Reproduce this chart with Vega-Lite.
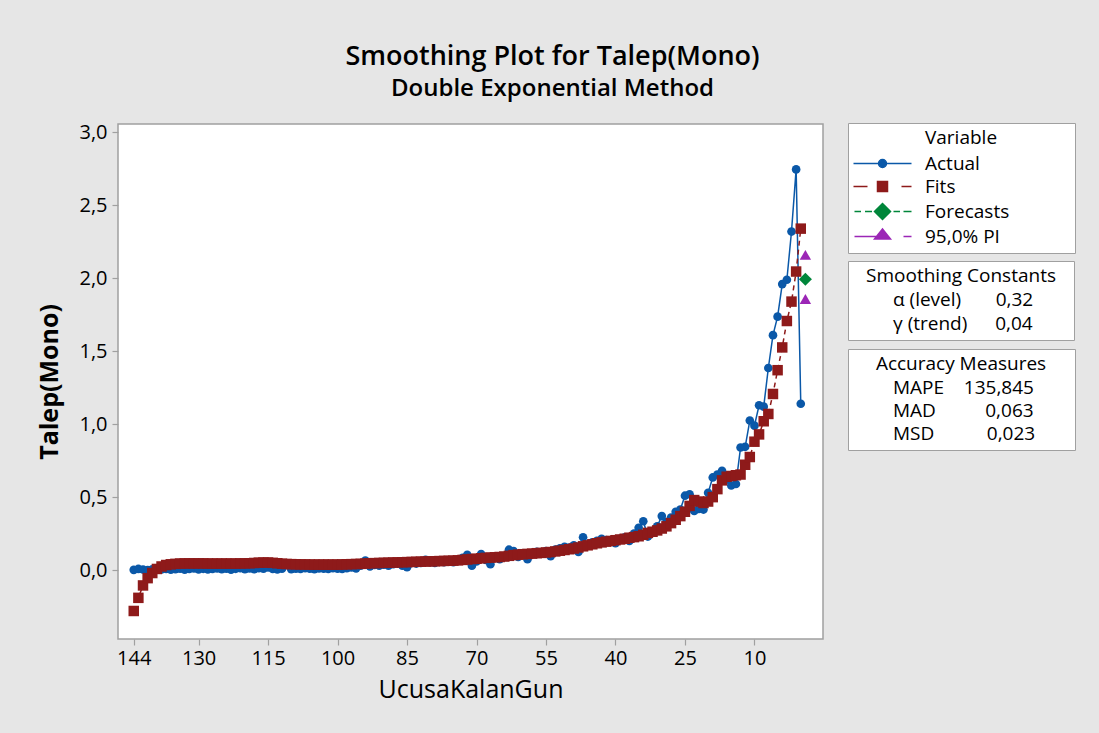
{
  "$schema": "https://vega.github.io/schema/vega-lite/v6.json",
  "autosize": {"type": "none"},
  "padding": {"left": 118, "top": 124, "right": 276, "bottom": 94},
  "width": 705,
  "height": 515,
  "background": "#e6e6e6",
  "config": {
    "font": "Open Sans",
    "view": {"fill": "white", "stroke": "#a0a0a0", "strokeWidth": 1.5},
    "axis": {"labelColor": "black", "titleColor": "black", "tickColor": "#a0a0a0", "tickSize": 6, "tickWidth": 1.2, "domain": false, "grid": false}
  },
  "title": {
    "text": "Smoothing Plot for Talep(Mono)",
    "subtitle": "Double Exponential Method",
    "anchor": "middle",
    "dx": 82,
    "offset": 20,
    "fontSize": 27,
    "fontWeight": 600,
    "color": "black",
    "subtitleFontSize": 24,
    "subtitleFontWeight": 600,
    "subtitleColor": "black",
    "subtitlePadding": 6
  },
  "datasets": {
    "series": [
      {"gun":144,"actual":0.002,"fit":-0.28},{"gun":143,"actual":0.008,"fit":-0.19},{"gun":142,"actual":0.004,"fit":-0.105},{"gun":141,"actual":0.0,"fit":-0.055},{"gun":140,"actual":0.006,"fit":-0.02},
      {"gun":139,"actual":0.01,"fit":0.008},{"gun":138,"actual":0.004,"fit":0.025},{"gun":137,"actual":0.008,"fit":0.035},{"gun":136,"actual":0.003,"fit":0.04},{"gun":135,"actual":0.007,"fit":0.043},
      {"gun":134,"actual":0.01,"fit":0.045},{"gun":133,"actual":0.003,"fit":0.046},{"gun":132,"actual":0.008,"fit":0.046},{"gun":131,"actual":0.012,"fit":0.046},{"gun":130,"actual":0.005,"fit":0.046},
      {"gun":129,"actual":0.009,"fit":0.046},{"gun":128,"actual":0.004,"fit":0.045},{"gun":127,"actual":0.008,"fit":0.045},{"gun":126,"actual":0.012,"fit":0.045},{"gun":125,"actual":0.006,"fit":0.045},
      {"gun":124,"actual":0.01,"fit":0.045},{"gun":123,"actual":0.003,"fit":0.045},{"gun":122,"actual":0.009,"fit":0.045},{"gun":121,"actual":0.013,"fit":0.046},{"gun":120,"actual":0.007,"fit":0.046},
      {"gun":119,"actual":0.011,"fit":0.047},{"gun":118,"actual":0.006,"fit":0.049},{"gun":117,"actual":0.014,"fit":0.051},{"gun":116,"actual":0.01,"fit":0.052},{"gun":115,"actual":0.018,"fit":0.052},
      {"gun":114,"actual":0.008,"fit":0.05},{"gun":113,"actual":0.004,"fit":0.047},{"gun":112,"actual":0.01,"fit":0.044},{"gun":111,"actual":0.04,"fit":0.042},{"gun":110,"actual":0.006,"fit":0.041},
      {"gun":109,"actual":0.01,"fit":0.04},{"gun":108,"actual":0.008,"fit":0.039},{"gun":107,"actual":0.013,"fit":0.039},{"gun":106,"actual":0.01,"fit":0.038},{"gun":105,"actual":0.006,"fit":0.038},
      {"gun":104,"actual":0.012,"fit":0.038},{"gun":103,"actual":0.01,"fit":0.038},{"gun":102,"actual":0.008,"fit":0.038},{"gun":101,"actual":0.013,"fit":0.038},{"gun":100,"actual":0.01,"fit":0.038},
      {"gun":99,"actual":0.008,"fit":0.039},{"gun":98,"actual":0.014,"fit":0.04},{"gun":97,"actual":0.018,"fit":0.041},{"gun":96,"actual":0.012,"fit":0.042},{"gun":95,"actual":0.03,"fit":0.043},
      {"gun":94,"actual":0.065,"fit":0.045},{"gun":93,"actual":0.025,"fit":0.047},{"gun":92,"actual":0.035,"fit":0.048},{"gun":91,"actual":0.03,"fit":0.049},{"gun":90,"actual":0.038,"fit":0.05},
      {"gun":89,"actual":0.03,"fit":0.051},{"gun":88,"actual":0.04,"fit":0.052},{"gun":87,"actual":0.045,"fit":0.053},{"gun":86,"actual":0.03,"fit":0.054},{"gun":85,"actual":0.02,"fit":0.055},
      {"gun":84,"actual":0.05,"fit":0.056},{"gun":83,"actual":0.045,"fit":0.057},{"gun":82,"actual":0.05,"fit":0.058},{"gun":81,"actual":0.07,"fit":0.059},{"gun":80,"actual":0.055,"fit":0.06},
      {"gun":79,"actual":0.05,"fit":0.061},{"gun":78,"actual":0.06,"fit":0.062},{"gun":77,"actual":0.055,"fit":0.063},{"gun":76,"actual":0.065,"fit":0.064},{"gun":75,"actual":0.055,"fit":0.065},
      {"gun":74,"actual":0.07,"fit":0.067},{"gun":73,"actual":0.085,"fit":0.07},{"gun":72,"actual":0.105,"fit":0.073},{"gun":71,"actual":0.03,"fit":0.076},{"gun":70,"actual":0.06,"fit":0.078},
      {"gun":69,"actual":0.11,"fit":0.081},{"gun":68,"actual":0.07,"fit":0.084},{"gun":67,"actual":0.04,"fit":0.086},{"gun":66,"actual":0.085,"fit":0.088},{"gun":65,"actual":0.075,"fit":0.09},
      {"gun":64,"actual":0.095,"fit":0.093},{"gun":63,"actual":0.14,"fit":0.098},{"gun":62,"actual":0.13,"fit":0.103},{"gun":61,"actual":0.09,"fit":0.106},{"gun":60,"actual":0.105,"fit":0.109},
      {"gun":59,"actual":0.075,"fit":0.111},{"gun":58,"actual":0.11,"fit":0.113},{"gun":57,"actual":0.125,"fit":0.116},{"gun":56,"actual":0.115,"fit":0.118},{"gun":55,"actual":0.13,"fit":0.121},
      {"gun":54,"actual":0.095,"fit":0.124},{"gun":53,"actual":0.14,"fit":0.128},{"gun":52,"actual":0.15,"fit":0.133},{"gun":51,"actual":0.16,"fit":0.138},{"gun":50,"actual":0.155,"fit":0.143},
      {"gun":49,"actual":0.17,"fit":0.148},{"gun":48,"actual":0.125,"fit":0.155},{"gun":47,"actual":0.225,"fit":0.163},{"gun":46,"actual":0.17,"fit":0.17},{"gun":45,"actual":0.19,"fit":0.177},
      {"gun":44,"actual":0.2,"fit":0.184},{"gun":43,"actual":0.215,"fit":0.19},{"gun":42,"actual":0.205,"fit":0.195},{"gun":41,"actual":0.2,"fit":0.2},{"gun":40,"actual":0.185,"fit":0.205},
      {"gun":39,"actual":0.215,"fit":0.21},{"gun":38,"actual":0.225,"fit":0.215},{"gun":37,"actual":0.2,"fit":0.222},{"gun":36,"actual":0.25,"fit":0.226},{"gun":35,"actual":0.29,"fit":0.232},
      {"gun":34,"actual":0.335,"fit":0.242},{"gun":33,"actual":0.23,"fit":0.255},{"gun":32,"actual":0.26,"fit":0.263},{"gun":31,"actual":0.3,"fit":0.272},{"gun":30,"actual":0.37,"fit":0.285},
      {"gun":29,"actual":0.33,"fit":0.3},{"gun":28,"actual":0.36,"fit":0.322},{"gun":27,"actual":0.4,"fit":0.345},{"gun":26,"actual":0.415,"fit":0.37},{"gun":25,"actual":0.51,"fit":0.4},
      {"gun":24,"actual":0.52,"fit":0.44},{"gun":23,"actual":0.405,"fit":0.48},{"gun":22,"actual":0.42,"fit":0.47},{"gun":21,"actual":0.415,"fit":0.46},{"gun":20,"actual":0.53,"fit":0.47},
      {"gun":19,"actual":0.635,"fit":0.5},{"gun":18,"actual":0.655,"fit":0.555},{"gun":17,"actual":0.68,"fit":0.615},{"gun":16,"actual":0.62,"fit":0.64},{"gun":15,"actual":0.58,"fit":0.645},
      {"gun":14,"actual":0.59,"fit":0.65},{"gun":13,"actual":0.84,"fit":0.655},{"gun":12,"actual":0.845,"fit":0.722},{"gun":11,"actual":1.025,"fit":0.775},{"gun":10,"actual":0.99,"fit":0.88},
      {"gun":9,"actual":1.13,"fit":0.93},{"gun":8,"actual":1.12,"fit":1.02},{"gun":7,"actual":1.385,"fit":1.07},{"gun":6,"actual":1.61,"fit":1.207},{"gun":5,"actual":1.737,"fit":1.37},
      {"gun":4,"actual":1.96,"fit":1.526},{"gun":3,"actual":1.99,"fit":1.707},{"gun":2,"actual":2.32,"fit":1.84},{"gun":1,"actual":2.746,"fit":2.046},{"gun":0,"actual":1.14,"fit":2.34}
    ],
    "forecast": [{"gun": -1, "forecast": 1.993, "upper": 2.16, "lower": 1.858}],
    "constants": [{"item": "α (level)", "value": "0,32"}, {"item": "γ (trend)", "value": "0,04"}],
    "accuracy": [{"item": "MAPE", "value": "135,845"}, {"item": "MAD", "value": "0,063"}, {"item": "MSD", "value": "0,023"}]
  },
  "encoding": {
    "x": {
      "field": "gun", "type": "quantitative",
      "scale": {"domain": [-4.8, 147.4], "reverse": true, "nice": false, "zero": false},
      "axis": {"values": [144,130,115,100,85,70,55,40,25,10], "title": "UcusaKalanGun", "titleFontSize": 25, "titleFontWeight": "normal", "titlePadding": 9, "labelFontSize": 20, "labelPadding": 3}
    }
  },
  "layer": [
    {
      "data": {"name": "series"},
      "mark": {"type": "line", "strokeWidth": 1.5},
      "encoding": {
        "y": {
          "field": "actual", "type": "quantitative",
          "scale": {"domain": [-0.472, 3.057], "nice": false, "zero": false},
          "axis": {"values": [0,0.5,1,1.5,2,2.5,3], "format": ".1f", "labelExpr": "replace(datum.label, '.', ',')", "title": "Talep(Mono)", "titleFontSize": 25, "titleFontWeight": "bold", "titlePadding": 16, "labelFontSize": 20, "labelPadding": 5}
        },
        "color": {
          "datum": "Actual", "type": "nominal",
          "scale": {"domain": ["Actual", "Fits", "Forecasts", "95,0% PI"], "range": ["#0a58a8", "#8e1a1a", "#00863a", "#9b26b6"]},
          "legend": {
            "title": "Variable",
            "orient": "none", "legendX": 730, "legendY": -1,
            "padding": 6,
            "strokeColor": "#a0a0a0", "fillColor": "white",
            "titleAnchor": "middle", "titleFontSize": 19, "titleFontWeight": "normal", "titleColor": "black", "titlePadding": 6, "titleLimit": 400,
            "labelFontSize": 19, "labelColor": "black", "labelOffset": 52, "labelLimit": 500,
            "labelExpr": "datum.label + '\u00a0\u00a0\u00a0\u00a0\u00a0\u00a0\u00a0\u00a0\u00a0\u00a0\u00a0\u00a0\u200b'",
            "symbolSize": 100, "rowPadding": 3,
            "encode": {
              "symbols": {"update": {
                "shape": {"signal": "datum.value === 'Actual' ? 'M-2,0H9.6M3,0A0.8,0.8,0,1,1,4.6,0A0.8,0.8,0,1,1,3,0Z' : datum.value === 'Fits' ? 'M-2,0H0.8M7.6,0H9.6M2.8,-1H4.8V1H2.8Z' : datum.value === 'Forecasts' ? 'M-1.8,0H-0.5M0.3,0H1.7M6,0H7.3M8,0H9.6M3.8,-1.6L5.4,0L3.8,1.6L2.2,0Z' : 'M-1.8,0H3.8M8,0H9.6M3.8,-1.5L5.4,0.5L2.2,0.5Z'"},
                "fill": {"scale": "color", "field": "value"},
                "stroke": {"scale": "color", "field": "value"},
                "strokeWidth": {"value": 1.5},
                "opacity": {"value": 1},
                "size": {"value": 100}
              }}
            }
          }
        }
      }
    },
    {
      "data": {"name": "series"},
      "mark": {"type": "point", "shape": "circle", "filled": true, "size": 75, "opacity": 1},
      "encoding": {"y": {"field": "actual", "type": "quantitative"}, "color": {"datum": "Actual", "type": "nominal"}}
    },
    {
      "data": {"name": "series"},
      "mark": {"type": "line", "strokeWidth": 1.5, "strokeDash": [5, 4]},
      "encoding": {"y": {"field": "fit", "type": "quantitative"}, "color": {"datum": "Fits", "type": "nominal"}}
    },
    {
      "data": {"name": "series"},
      "mark": {"type": "point", "shape": "square", "filled": true, "size": 110, "opacity": 1},
      "encoding": {"y": {"field": "fit", "type": "quantitative"}, "color": {"datum": "Fits", "type": "nominal"}}
    },
    {
      "data": {"name": "forecast"},
      "mark": {"type": "point", "shape": "diamond", "filled": true, "size": 170, "opacity": 1},
      "encoding": {"y": {"field": "forecast", "type": "quantitative"}, "color": {"datum": "Forecasts", "type": "nominal"}}
    },
    {
      "data": {"name": "forecast"},
      "mark": {"type": "point", "shape": "triangle-up", "filled": true, "size": 130, "opacity": 1},
      "encoding": {"y": {"field": "upper", "type": "quantitative"}, "color": {"datum": "95,0% PI", "type": "nominal"}}
    },
    {
      "data": {"name": "forecast"},
      "mark": {"type": "point", "shape": "triangle-up", "filled": true, "size": 130, "opacity": 1},
      "encoding": {"y": {"field": "lower", "type": "quantitative"}, "color": {"datum": "95,0% PI", "type": "nominal"}}
    },
    {
      "data": {"name": "constants"},
      "mark": {"type": "point", "filled": true, "opacity": 0},
      "encoding": {
        "fill": {
          "field": "item", "type": "nominal",
          "scale": {"domain": ["α (level)", "γ (trend)"], "range": ["white"]},
          "legend": {
            "title": "Smoothing Constants",
            "orient": "none", "legendX": 730, "legendY": 137,
            "padding": 6, "strokeColor": "#a0a0a0", "fillColor": "white",
            "titleAnchor": "middle", "titleFontSize": 19, "titleFontWeight": "normal", "titleColor": "black", "titlePadding": 4, "titleLimit": 400,
            "labelFontSize": 19, "labelColor": "black", "labelLimit": 500, "labelOffset": 20,
            "labelExpr": "datum.label == 'α (level)' ? 'α (level)\u00a0\u00a0\u00a0\u00a0\u00a0\u00a0\u00a00,32\u00a0\u00a0\u00a0\u00a0\u00a0\u00a0\u00a0\u200b' : 'γ (trend)\u00a0\u00a0\u00a0\u00a0\u00a0\u20090,04'",
            "rowPadding": 4,
            "symbolSize": 0, "symbolOpacity": 0, "symbolStrokeWidth": 0
          }
        }
      }
    },
    {
      "data": {"name": "accuracy"},
      "mark": {"type": "point", "filled": true, "opacity": 0},
      "encoding": {
        "stroke": {
          "field": "item", "type": "nominal",
          "scale": {"domain": ["MAPE", "MAD", "MSD"], "range": ["white"]},
          "legend": {
            "title": "Accuracy Measures",
            "orient": "none", "legendX": 730, "legendY": 225,
            "padding": 6, "strokeColor": "#a0a0a0", "fillColor": "white",
            "titleAnchor": "middle", "titleFontSize": 19, "titleFontWeight": "normal", "titleColor": "black", "titlePadding": 4, "titleLimit": 400,
            "labelFontSize": 19, "labelColor": "black", "labelLimit": 500, "labelOffset": 20,
            "labelExpr": "datum.label == 'MAPE' ? 'MAPE\u00a0\u00a0\u00a0\u00a0135,845\u00a0\u00a0\u00a0\u00a0\u00a0\u00a0\u00a0\u200b' : datum.label == 'MAD' ? 'MAD\u00a0\u00a0\u00a0\u00a0\u00a0\u00a0\u00a0\u00a0\u00a0\u00a00,063' : 'MSD\u00a0\u00a0\u00a0\u00a0\u00a0\u00a0\u00a0\u00a0\u00a0\u00a0\u20090,023'",
            "rowPadding": 3,
            "symbolSize": 0, "symbolOpacity": 0, "symbolStrokeWidth": 0
          }
        }
      }
    }
  ]
}
